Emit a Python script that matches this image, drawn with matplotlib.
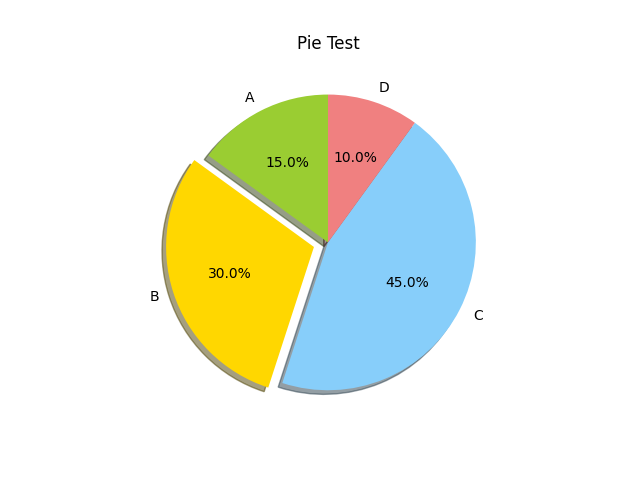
import matplotlib
matplotlib.use('Agg')
import matplotlib.pyplot as plt

labels = ['A', 'B', 'C', 'D']
sizes = [15, 30, 45, 10]
colors = ['yellowgreen', 'gold', 'lightskyblue', 'lightcoral']
explode = (0, 0.1, 0, 0)

fig, ax = plt.subplots(figsize=(6.4, 4.8), dpi=100)
ax.pie(sizes, explode=explode, labels=labels, colors=colors,
       autopct='%1.1f%%', shadow=True, startangle=90)
ax.set_aspect('equal')
ax.set_title('Pie Test')
plt.savefig('out.png')
